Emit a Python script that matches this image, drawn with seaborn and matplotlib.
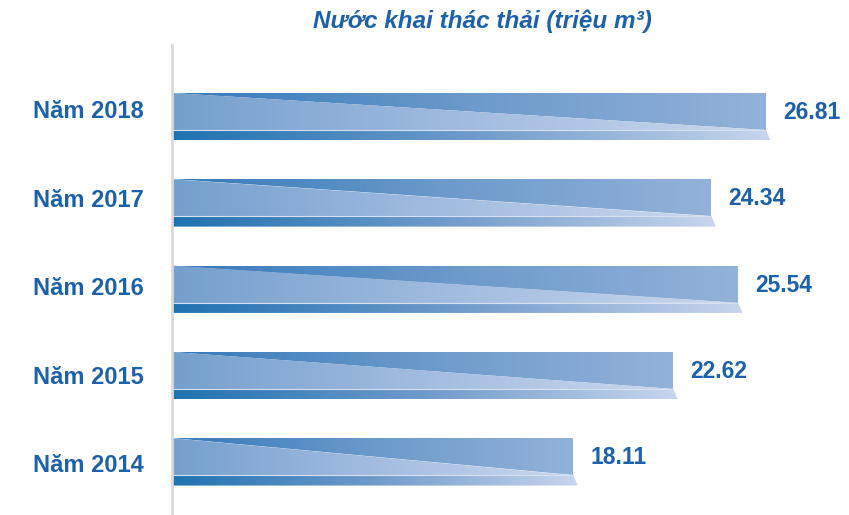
import numpy as np
import pandas as pd
import matplotlib
matplotlib.use("Agg")
import matplotlib.pyplot as plt
from matplotlib.patches import Polygon
from matplotlib.colors import LinearSegmentedColormap
import seaborn as sns

# ---- data ----
labels = ["Năm 2018", "Năm 2017", "Năm 2016", "Năm 2015", "Năm 2014"]
values = [26.81, 24.34, 25.54, 22.62, 18.11]
title = "Nước khai thác thải (triệu m³)"

df = pd.DataFrame({"label": labels, "value": values})

sns.set_theme(style="white")
plt.rcParams["font.family"] = ["Liberation Sans", "DejaVu Sans"]

TXT = "#1c61ab"
W, H = 849, 515
fig = plt.figure(figsize=(W / 100, H / 100), dpi=100)
ax = fig.add_axes([172 / W, 0.0, (W - 172) / W, 1 - 45 / H])

bar_h = 0.43
sns.barplot(data=df, x="value", y="label", orient="h", width=bar_h,
            color="#7fa6d2", linewidth=0, ax=ax)

xmax = (W - 172) / 22.16
ymin, ymax = 4.675, -0.77
strip_h = 0.119
slant = 0.2

upper_cmap = LinearSegmentedColormap.from_list("u", ["#3679ba", "#6b9acb", "#93b2d9"])
lower_cmap = LinearSegmentedColormap.from_list("l", ["#74a0cd", "#a2bce0", "#cbd7ee"])
strip_cmap = LinearSegmentedColormap.from_list("s", ["#1f72b1", "#6f9bcb", "#c8d5ed"])
grad = np.linspace(0, 1, 256).reshape(1, -1)


def fill_grad(poly_pts, x0, x1, y0, y1, cmap):
    poly = Polygon(poly_pts, closed=True, facecolor="none", edgecolor="none",
                   transform=ax.transData)
    ax.add_patch(poly)
    im = ax.imshow(grad, cmap=cmap, extent=(x0, x1, y1, y0), aspect="auto",
                   interpolation="bilinear", zorder=2)
    im.set_clip_path(poly)


bars = sorted(list(ax.patches), key=lambda p: p.get_y())
for i, p in enumerate(bars):
    x0 = p.get_x()
    v = p.get_width()
    top = p.get_y()
    bot = top + p.get_height()
    mid = (top + bot) / 2
    p.set_facecolor("none")
    # upper (darker) triangle
    fill_grad([(x0, top), (x0 + v, top), (x0 + v, bot)], x0, x0 + v, top, bot, upper_cmap)
    # lower (lighter) triangle
    fill_grad([(x0, top), (x0 + v, bot), (x0, bot)], x0, x0 + v, top, bot, lower_cmap)
    # bottom strip
    fill_grad([(x0, bot), (x0 + v, bot), (x0 + v + slant, bot + strip_h), (x0, bot + strip_h)],
              x0, x0 + v + slant, bot, bot + strip_h, strip_cmap)
    ax.plot([x0, x0 + v], [bot, bot], color="#d6e0f0", lw=0.8, zorder=3)
    ax.annotate(f"{v:.2f}", xy=(x0 + v, mid), xytext=(17, -1),
                textcoords="offset pixels", ha="left", va="center",
                fontsize=16.5, fontweight="bold", color=TXT)
    ax.annotate(labels[i], xy=(0, mid), xytext=(-28, -2.3 * i),
                textcoords="offset pixels", ha="right", va="center",
                fontsize=17, fontweight="bold", color=TXT, annotation_clip=False)

ax.set_xlim(0, xmax)
ax.set_ylim(ymin, ymax)
ax.set_xlabel("")
ax.set_ylabel("")
ax.set_xticks([])
ax.set_yticks([])
for s in ["top", "right", "bottom"]:
    ax.spines[s].set_visible(False)
ax.spines["left"].set_color("#d9d9d9")
ax.spines["left"].set_linewidth(2)

fig.text(482 / W, 1 - 21 / H, title, ha="center", va="center",
         fontsize=17.5, fontweight="bold", fontstyle="italic", color=TXT)

fig.savefig("out.png", dpi=100)
